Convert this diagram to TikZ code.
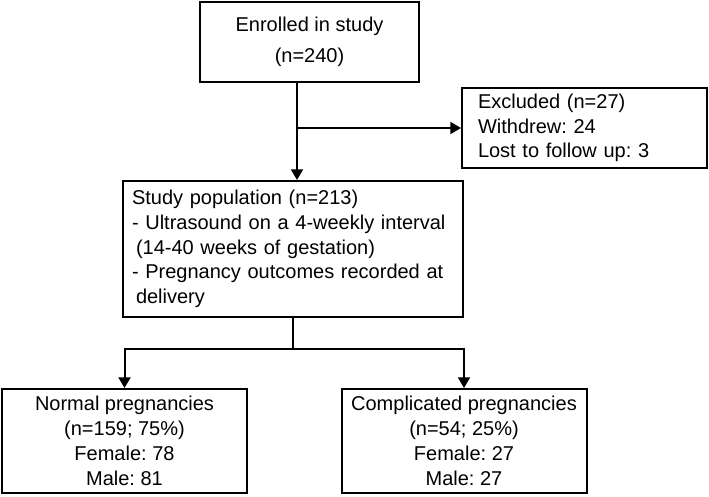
\documentclass[tikz,border=0pt]{standalone}
\usepackage{fontspec}
\setmainfont{Liberation Sans}
\usetikzlibrary{arrows.meta,positioning}

\begin{document}
\frenchspacing
\begin{tikzpicture}[
  x=0.75pt, y=-0.75pt,
  box/.style={rectangle, draw=black, line width=1.5pt, inner ysep=0pt,
               font=\fontsize{15}{18.6}\selectfont},
  cbox/.style={box, align=center, minimum width=183.75pt, minimum height=78pt},
  lbox/.style={box, align=left},
  arr/.style={-{Triangle[width=9pt,length=8pt]}, line width=1.5pt},
  line/.style={line width=1.5pt}
]
\useasboundingbox (0,0) rectangle (709,496);

%% Top of the chart
\node[box, align=center, minimum width=164.25pt, minimum height=60pt]
  (enrol) at (309.5,42) {Enrolled in study\\[4.5pt](n=240)};
\node[lbox, inner xsep=12pt, text width=159.75pt, minimum height=60pt]
  (excl) at (584.5,128)
  {Excluded (n=27)\\Withdrew: 24\\Lost to follow up: 3};

%% Study population
\node[lbox, inner xsep=6.75pt, text width=241.5pt, minimum height=102pt]
  (study) at (293,249)
  {Study population (n=213)\\
   - Ultrasound on a 4-weekly interval\\
   \hspace*{3pt}(14-40 weeks of gestation)\\
   - Pregnancy outcomes recorded at\\
   \hspace*{3pt}delivery};

%% Outcome groups
\node[cbox] (normal) at (124.5,441)
  {Normal pregnancies\\(n=159; 75\%)\\Female: 78\\Male: 81};
\node[cbox] (compl) at (464,441)
  {Complicated pregnancies\\(n=54; 25\%)\\Female: 27\\Male: 27};

%% Connectors
\coordinate (split) at (297,128);
\coordinate (fork) at (293,349);
\draw[arr] (enrol.south -| split) -- (study.north -| split);
\draw[arr] (split) -- (excl.west);
\draw[line] (study.south) -- (fork);
\draw[arr] (fork) -| (normal.north);
\draw[arr] (fork) -| (compl.north);

\end{tikzpicture}
\end{document}
